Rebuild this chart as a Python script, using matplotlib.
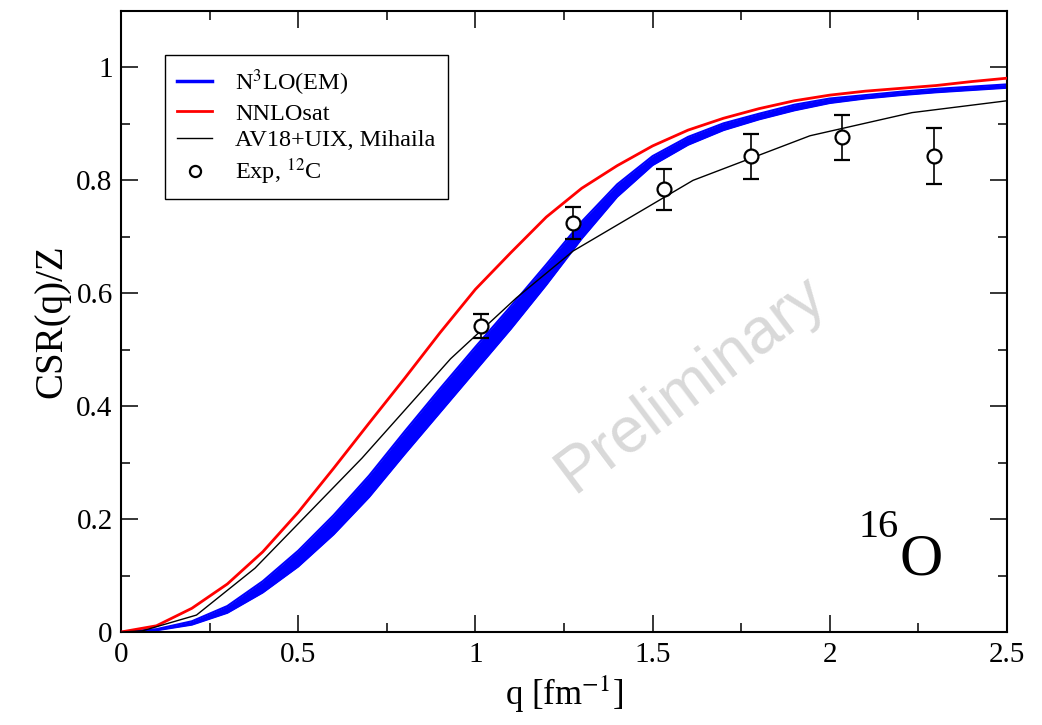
import matplotlib
matplotlib.use("Agg")
import matplotlib.pyplot as plt
from matplotlib.lines import Line2D
from matplotlib.ticker import MultipleLocator
import numpy as np

plt.rcParams['font.family'] = ['Liberation Serif', 'DejaVu Serif']
plt.rcParams['mathtext.fontset'] = 'stix'

# ---------------- data ----------------
q_grid = [0.0, 0.1, 0.2, 0.3, 0.4, 0.5, 0.6, 0.7, 0.8, 0.9, 1.0, 1.1, 1.2,
          1.3, 1.4, 1.5, 1.6, 1.7, 1.8, 1.9, 2.0, 2.1, 2.2, 2.3, 2.4, 2.5]

nnlosat = [0.0, 0.011, 0.042, 0.085, 0.142, 0.212, 0.290, 0.370, 0.449, 0.530,
           0.607, 0.672, 0.735, 0.786, 0.826, 0.861, 0.889, 0.910, 0.927, 0.941,
           0.951, 0.958, 0.963, 0.968, 0.975, 0.981]

n3lo_lower = [0.0, 0.003, 0.013, 0.034, 0.070, 0.116, 0.173, 0.239, 0.315, 0.389,
              0.463, 0.537, 0.615, 0.697, 0.771, 0.827, 0.863, 0.889, 0.908, 0.924,
              0.937, 0.945, 0.951, 0.956, 0.960, 0.964]
n3lo_upper = [0.0, 0.005, 0.019, 0.046, 0.090, 0.144, 0.207, 0.277, 0.355, 0.431,
              0.505, 0.577, 0.651, 0.727, 0.793, 0.843, 0.877, 0.901, 0.918, 0.934,
              0.945, 0.951, 0.957, 0.962, 0.966, 0.970]

av18_q = [0.0, 0.06, 0.213, 0.378, 0.68, 0.93, 1.116, 1.276, 1.614, 1.944, 2.232, 2.5]
av18 = [0.0, 0.002, 0.030, 0.113, 0.308, 0.484, 0.592, 0.675, 0.800, 0.879, 0.920, 0.941]

exp_q = [1.016, 1.275, 1.532, 1.777, 2.034, 2.294]
exp_y = [0.542, 0.724, 0.784, 0.843, 0.876, 0.843]
exp_err = [0.022, 0.028, 0.037, 0.040, 0.040, 0.050]

xticks = [0, 0.5, 1, 1.5, 2, 2.5]
xticklabels = ['0', '0.5', '1', '1.5', '2', '2.5']
yticks = [0, 0.2, 0.4, 0.6, 0.8, 1.0]
yticklabels = ['0', '0.2', '0.4', '0.6', '0.8', '1']

# ---------------- figure ----------------
fig = plt.figure(figsize=(10.42, 7.25), dpi=100)
ax = fig.add_axes([121/1042, 1 - 632/725, 886/1042, 621/725])

ax.text(1.61, 0.44, 'Preliminary', family=['Liberation Sans', 'DejaVu Sans'],
        fontsize=46, color='#d9d9d9', rotation=37, ha='center', va='center',
        zorder=0)

ax.fill_between(q_grid, n3lo_lower, n3lo_upper, color='blue', lw=0, zorder=2)
ax.plot(q_grid, n3lo_lower, color='blue', lw=1.5, zorder=2)
ax.plot(q_grid, n3lo_upper, color='blue', lw=1.5, zorder=2)
ax.plot(q_grid, nnlosat, color='red', lw=2, zorder=3)
ax.plot(av18_q, av18, color='black', lw=1, zorder=4)
ax.errorbar(exp_q, exp_y, yerr=exp_err, fmt='o', mfc='white', mec='black',
            ms=10, mew=1.6, ecolor='black', elinewidth=1.2, capsize=6,
            capthick=1.2, zorder=5)

ax.set_xlim(0, 2.5)
ax.set_ylim(0, 1.1)
ax.set_xticks(xticks)
ax.set_xticklabels(xticklabels)
ax.set_yticks(yticks)
ax.set_yticklabels(yticklabels)
ax.xaxis.set_minor_locator(MultipleLocator(0.25))
ax.yaxis.set_minor_locator(MultipleLocator(0.1))
ax.tick_params(which='both', direction='in', top=True, right=True, width=1.1)
ax.tick_params(which='major', length=12.5, labelsize=21)
ax.tick_params(axis='x', which='major', pad=7)
ax.tick_params(axis='y', which='major', pad=6)
ax.tick_params(which='minor', length=6.5)
for s in ax.spines.values():
    s.set_linewidth(1.5)

ax.set_xlabel(r'q [fm$^{-1}$]', fontsize=25, labelpad=4)
ax.set_ylabel('CSR(q)/Z', fontsize=28, labelpad=4)

ax.text(2.082, 0.168, '16', fontsize=29, ha='left', va='baseline')
ax.text(2.198, 0.101, 'O', fontsize=43, ha='left', va='baseline')

handles = [
    Line2D([], [], color='blue', lw=2.5),
    Line2D([], [], color='red', lw=2),
    Line2D([], [], color='black', lw=1),
    Line2D([], [], ls='none', marker='o', mfc='white', mec='black', ms=8, mew=1.6),
]
labels = [r'N$^3$LO(EM)', 'NNLOsat', 'AV18+UIX, Mihaila', r'Exp, $^{12}$C']
leg = ax.legend(handles, labels, loc='upper left',
                bbox_to_anchor=((165 - 121) / 886, 1 - (55 - 11) / 621),
                borderaxespad=0, fontsize=17.5, frameon=True, fancybox=False,
                framealpha=1, edgecolor='black', handlelength=1.45,
                handletextpad=0.95, labelspacing=0.2, borderpad=0.5)
leg.get_frame().set_linewidth(1.0)

fig.savefig('out.png', dpi=100)
